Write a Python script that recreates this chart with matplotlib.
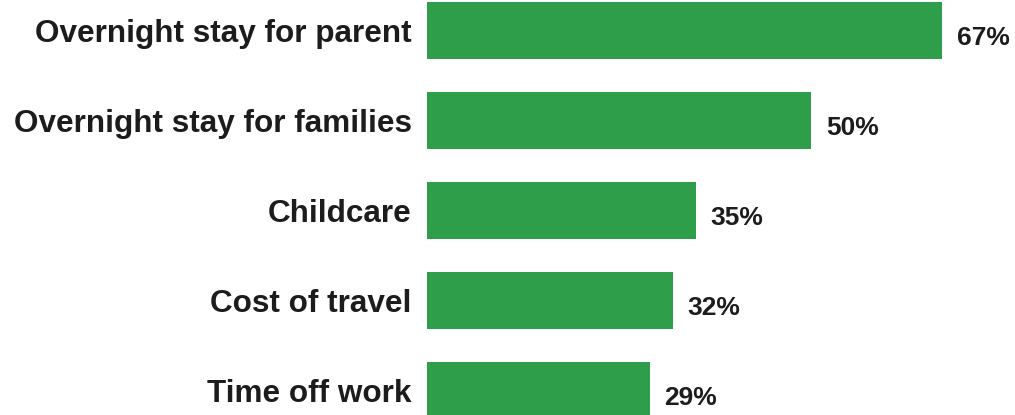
import matplotlib
matplotlib.use("Agg")
import matplotlib.pyplot as plt

categories = ["Overnight stay for parent", "Overnight stay for families", "Childcare",
              "Cost of travel", "Time off work"]
values = [67, 50, 35, 32, 29]
value_labels = ["67%", "50%", "35%", "32%", "29%"]

BAR_COLOR = "#2f9e4a"
TEXT_COLOR = "#1c1c1c"

fig = plt.figure(figsize=(10.15, 4.15), dpi=100)
ax = fig.add_axes([427 / 1015, 0, 1 - 427 / 1015, 1])
ypos = list(range(len(categories)))
ax.barh(ypos, values, height=0.633, color=BAR_COLOR)
ax.set_xlim(0, 76.5)
ax.set_ylim(4.272, -0.339)
ax.axis("off")

for y, cat, v, lab in zip(ypos, categories, values, value_labels):
    ax.annotate(cat, xy=(0, y), xytext=(-11, -8.3), textcoords="offset points",
                ha="right", va="baseline", fontsize=22.7, fontweight="bold",
                family="Liberation Sans", color=TEXT_COLOR, annotation_clip=False)
    ax.annotate(lab, xy=(v, y), xytext=(10.5, -10.5), textcoords="offset points",
                ha="left", va="baseline", fontsize=19, fontweight="bold",
                family="Liberation Sans", color=TEXT_COLOR, annotation_clip=False)

fig.savefig("out.png", dpi=100)
